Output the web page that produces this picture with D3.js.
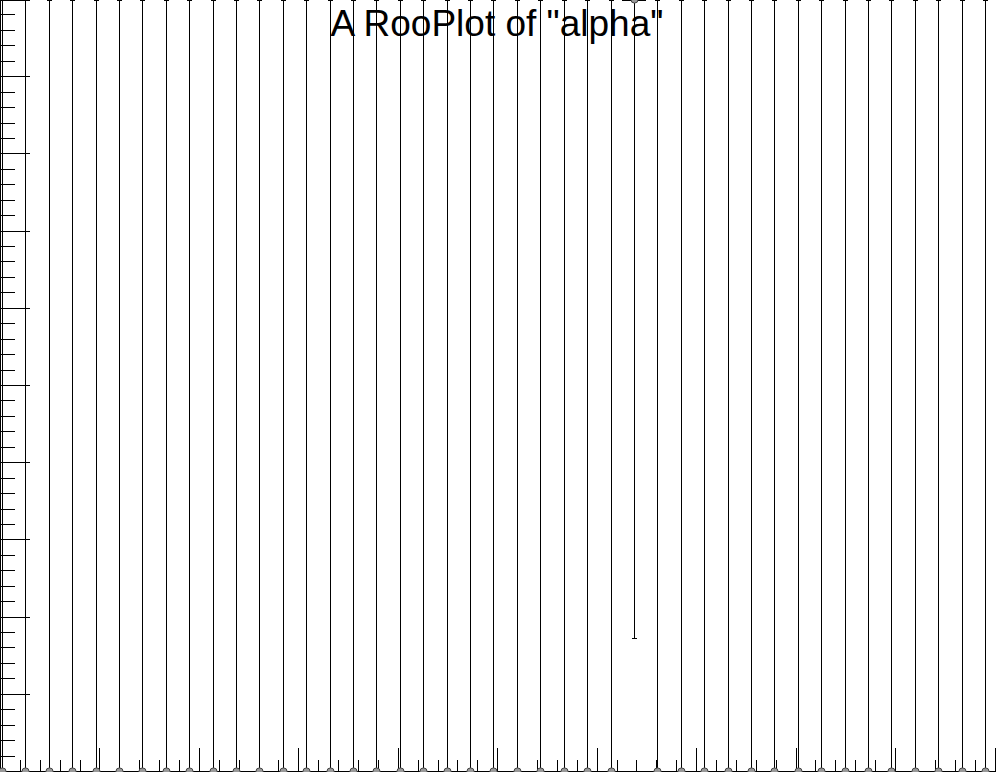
<!DOCTYPE html>
<html>
<head>
<meta charset="utf-8">
<script src="https://cdn.jsdelivr.net/npm/d3@7"></script>
<style>
  html, body { margin: 0; padding: 0; background: #fff; }
  svg { display: block; }
</style>
</head>
<body>
<script>
// ---- data ----
const title = 'A RooPlot of "alpha"';
const binCenters = [0.019, 0.254, 0.490, 0.725, 0.961, 1.196, 1.431, 1.667, 1.902, 2.138,
  2.373, 2.608, 2.844, 3.079, 3.315, 3.550, 3.785, 4.021, 4.256, 4.492,
  4.727, 4.962, 5.198, 5.433, 5.669, 5.904, 6.139, 6.375, 6.610, 6.846,
  7.081, 7.316, 7.552, 7.787, 8.022, 8.258, 8.493, 8.729, 8.964, 9.200,
  9.435, 9.670, 9.906];
const counts = [0,0,0,0,0,0,0,0,0,0, 0,0,0,0,0,0,0,0,0,0, 0,0,0,0,0,0,0,1,0,0,
  0,0,0,0,0,0,0,0,0,0, 0,0,0];
const binWidth = 0.2354;
const errLowZero = 0, errHighZero = 1.1478;
const errLowOne = 0.8273, errHighOne = 1.2996;
const xDomain = [0, 10];
const yDomain = [0, 1];

const W = 996, H = 772;
const svg = d3.select("body").append("svg").attr("width", W).attr("height", H)
  .attr("shape-rendering", "crispEdges");

const x = d3.scaleLinear().domain(xDomain).range([0, 994.5]);
const y = d3.scaleLinear().domain(yDomain).range([771.5, -0.5]);

const data = binCenters.map((c, i) => ({
  x: c, n: counts[i],
  lo: counts[i] === 0 ? errLowZero : errLowOne,
  hi: counts[i] === 0 ? errHighZero : errHighOne
}));

const px = v => Math.round(x(v)) + 0.5;
const py = v => Math.max(0.5, Math.min(771.5, Math.round(y(v) - 0.5) + 0.5));

// ---- axes (ROOT style ticks inside frame) ----
const gAx = svg.append("g").attr("stroke", "#000").attr("stroke-width", 1);
const yMinor = d3.range(0, 1.0001, 0.02);
gAx.selectAll("line.ymin").data(yMinor).join("line")
  .attr("x1", 0).attr("x2", d => (Math.abs(d * 10 - Math.round(d * 10)) < 1e-6) ? 30 : 15)
  .attr("y1", d => py(d)).attr("y2", d => py(d));
const xMinor = d3.range(0, 10.0001, 0.2);
gAx.selectAll("line.xmin").data(xMinor).join("line")
  .attr("x1", d => px(d)).attr("x2", d => px(d))
  .attr("y1", d => (Math.abs(d - Math.round(d)) < 1e-6) ? 748 : 760)
  .attr("y2", 772);
gAx.append("line").attr("x1", 0.5).attr("x2", 0.5).attr("y1", 0).attr("y2", 772);
gAx.append("line").attr("x1", 0).attr("x2", W).attr("y1", 771.5).attr("y2", 771.5);

// ---- data points with errors ----
const gD = svg.append("g").attr("stroke", "#000").attr("stroke-width", 1);
gD.selectAll("line.ey").data(data).join("line")
  .attr("x1", d => px(d.x)).attr("x2", d => px(d.x))
  .attr("y1", d => py(d.n - d.lo)).attr("y2", d => py(d.n + d.hi));
const caps = [];
data.forEach(d => {
  if (d.lo > 0) caps.push({x: d.x, v: d.n - d.lo});
  caps.push({x: d.x, v: d.n + d.hi});
});
gD.selectAll("line.cap").data(caps).join("line")
  .attr("x1", d => px(d.x) - 2.5).attr("x2", d => px(d.x) + 2.5)
  .attr("y1", d => py(d.v)).attr("y2", d => py(d.v));
gD.selectAll("line.ex").data(data).join("line")
  .attr("x1", d => x(d.x - binWidth / 2)).attr("x2", d => x(d.x + binWidth / 2))
  .attr("y1", d => py(d.n)).attr("y2", d => py(d.n));
svg.append("g").selectAll("circle").data(data).join("circle")
  .attr("shape-rendering", "auto")
  .attr("cx", d => px(d.x)).attr("cy", d => y(d.n))
  .attr("r", 3.6)
  .attr("fill", "#999").attr("stroke", "#444").attr("stroke-width", 1);

// ---- title ----
svg.append("text")
  .attr("x", 497).attr("y", 36)
  .attr("text-anchor", "middle")
  .attr("font-family", "Liberation Sans, Arial, Helvetica, sans-serif")
  .attr("font-size", 37)
  .attr("fill", "#000")
  .text(title);
</script>
</body>
</html>
